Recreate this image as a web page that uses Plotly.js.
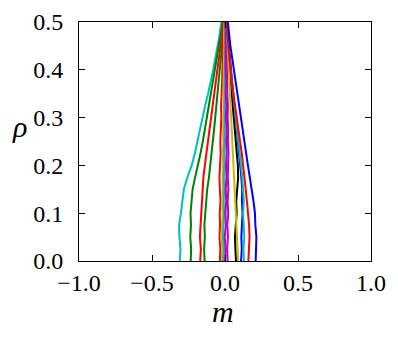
<!DOCTYPE html>
<html>
<head>
<meta charset="utf-8">
<script src="https://cdn.plot.ly/plotly-3.0.1.min.js"></script>
<style>
  html, body { margin: 0; padding: 0; background: #fff; }
  #chart { width: 398px; height: 340px; }
</style>
</head>
<body>
<div id="chart"></div>
<script>
// rho grid shared by every curve
rho = [0, 0.025, 0.05, 0.075, 0.1, 0.125, 0.15, 0.175, 0.2, 0.225, 0.25,
       0.275, 0.3, 0.325, 0.35, 0.375, 0.4, 0.425, 0.45, 0.475, 0.5]

// m(rho), one array per curve
cyan1 = [-0.31,-0.305,-0.312,-0.315,-0.302,-0.292,-0.282,-0.258,-0.228,-0.207,-0.19,-0.172,-0.155,-0.136,-0.116,-0.097,-0.081,-0.066,-0.05,-0.036,-0.025]
green1 = [-0.235,-0.232,-0.238,-0.233,-0.236,-0.228,-0.222,-0.205,-0.185,-0.168,-0.152,-0.138,-0.124,-0.11,-0.095,-0.08,-0.066,-0.052,-0.04,-0.027,-0.015]
red1 = [-0.17,-0.165,-0.172,-0.168,-0.163,-0.16,-0.155,-0.148,-0.138,-0.127,-0.116,-0.105,-0.094,-0.082,-0.071,-0.06,-0.05,-0.04,-0.03,-0.02,-0.01]
green2 = [-0.14,-0.143,-0.138,-0.141,-0.135,-0.13,-0.122,-0.11,-0.1,-0.092,-0.084,-0.075,-0.067,-0.059,-0.051,-0.043,-0.036,-0.028,-0.02,-0.012,-0.005]
red2 = [-0.035,-0.032,-0.038,-0.034,-0.036,-0.031,-0.035,-0.038,-0.034,-0.03,-0.032,-0.028,-0.025,-0.027,-0.022,-0.02,-0.018,-0.015,-0.012,-0.01,-0.008]
yellow1 = [-0.022,-0.018,-0.024,-0.02,-0.016,-0.019,-0.014,-0.017,-0.013,-0.015,-0.011,-0.013,-0.01,-0.012,-0.008,-0.01,-0.007,-0.008,-0.005,-0.006,-0.004]
cyan2 = [-0.012,-0.008,-0.014,-0.01,-0.006,-0.009,-0.005,-0.008,-0.004,-0.006,-0.003,-0.005,-0.002,-0.004,0.0,-0.002,0.001,-0.001,0.002,0.0,0.001]
magenta1 = [0.0,0.004,-0.002,0.006,0.003,0.008,0.005,0.01,0.007,0.011,0.008,0.01,0.006,0.009,0.005,0.008,0.004,0.006,0.003,0.005,0.002]
magenta2 = [0.018,0.015,0.02,0.016,0.022,0.018,0.023,0.019,0.021,0.024,0.02,0.022,0.018,0.02,0.016,0.017,0.013,0.014,0.01,0.011,0.008]
black = [0.075,0.072,0.068,0.074,0.08,0.077,0.085,0.09,0.088,0.08,0.074,0.067,0.06,0.053,0.046,0.039,0.032,0.025,0.018,0.011,0.005]
yellow2 = [0.09,0.086,0.082,0.076,0.07,0.066,0.062,0.058,0.055,0.052,0.05,0.046,0.042,0.038,0.034,0.03,0.026,0.022,0.018,0.014,0.01]
blue1 = [0.11,0.115,0.112,0.118,0.12,0.116,0.118,0.112,0.105,0.097,0.089,0.081,0.073,0.064,0.056,0.048,0.04,0.032,0.024,0.018,0.012]
cyan3 = [0.13,0.126,0.132,0.128,0.124,0.129,0.125,0.118,0.11,0.102,0.093,0.084,0.075,0.065,0.056,0.046,0.037,0.028,0.02,0.012,0.005]
red3 = [0.16,0.163,0.168,0.165,0.16,0.15,0.142,0.134,0.125,0.115,0.103,0.091,0.08,0.068,0.056,0.046,0.038,0.03,0.022,0.015,0.008]
blue2 = [0.21,0.213,0.215,0.208,0.205,0.195,0.185,0.17,0.157,0.145,0.13,0.117,0.105,0.093,0.082,0.07,0.058,0.047,0.037,0.028,0.02]

curves = [cyan1, green1, red1, green2, red2, yellow1, cyan2, magenta1,
          magenta2, black, yellow2, blue1, cyan3, red3, blue2]
colors = ["#00bfbf", "#008000", "#ff0000", "#008000", "#ff0000", "#bfbf00", "#00bfbf", "#bf00bf",
          "#bf00bf", "#000000", "#bfbf00", "#0000ff", "#00bfbf", "#ff0000", "#0000ff"]

function draw() {
    var data = []
    for (var i = 0; i < curves.length; i++) {
        data.push({
            x: curves[i],
            y: rho,
            mode: "lines",
            line: {color: colors[i], width: 2},
            hoverinfo: "skip"
        })
    }

    var fam = "'Liberation Serif', serif"
    var axis = {
        showline: true, linecolor: "#000", linewidth: 1, mirror: "ticks",
        ticks: "inside", ticklen: 6, tickwidth: 1, tickcolor: "#000",
        showgrid: false, zeroline: false, tickformat: ".1f",
        tickfont: {family: fam, size: 24}
    }

    var layout = {
        width: 398, height: 340,
        margin: {l: 79, r: 27, t: 22, b: 79},
        showlegend: false,
        font: {family: fam, color: "#000"},
        paper_bgcolor: "#fff", plot_bgcolor: "#fff",
        xaxis: Object.assign({}, axis, {range: [-1, 1], tickvals: [-1, -0.5, 0, 0.5, 1],
                                        ticklabelstandoff: 0}),
        yaxis: Object.assign({}, axis, {range: [0, 0.5], tickvals: [0, 0.1, 0.2, 0.3, 0.4, 0.5],
                                        ticklabelstandoff: 10}),
        annotations: [
            {text: "<i>m</i>", xref: "paper", yref: "paper", x: 0.493, y: -0.213,
             xanchor: "center", yanchor: "middle", showarrow: false,
             font: {family: fam, size: 30}},
            {text: "<i>ρ</i>", xref: "paper", yref: "paper", x: -0.205, y: 0.562,
             xanchor: "center", yanchor: "middle", showarrow: false,
             font: {family: fam, size: 30}}
        ]
    }

    Plotly.newPlot("chart", data, layout, {displayModeBar: false, staticPlot: true})
}

// make sure the serif face is ready before Plotly measures text
if (document.fonts && document.fonts.load) {
    Promise.all([
        document.fonts.load('24px "Liberation Serif"'),
        document.fonts.load('italic 30px "Liberation Serif"')
    ]).then(draw, draw)
} else {
    draw()
}
</script>
</body>
</html>
